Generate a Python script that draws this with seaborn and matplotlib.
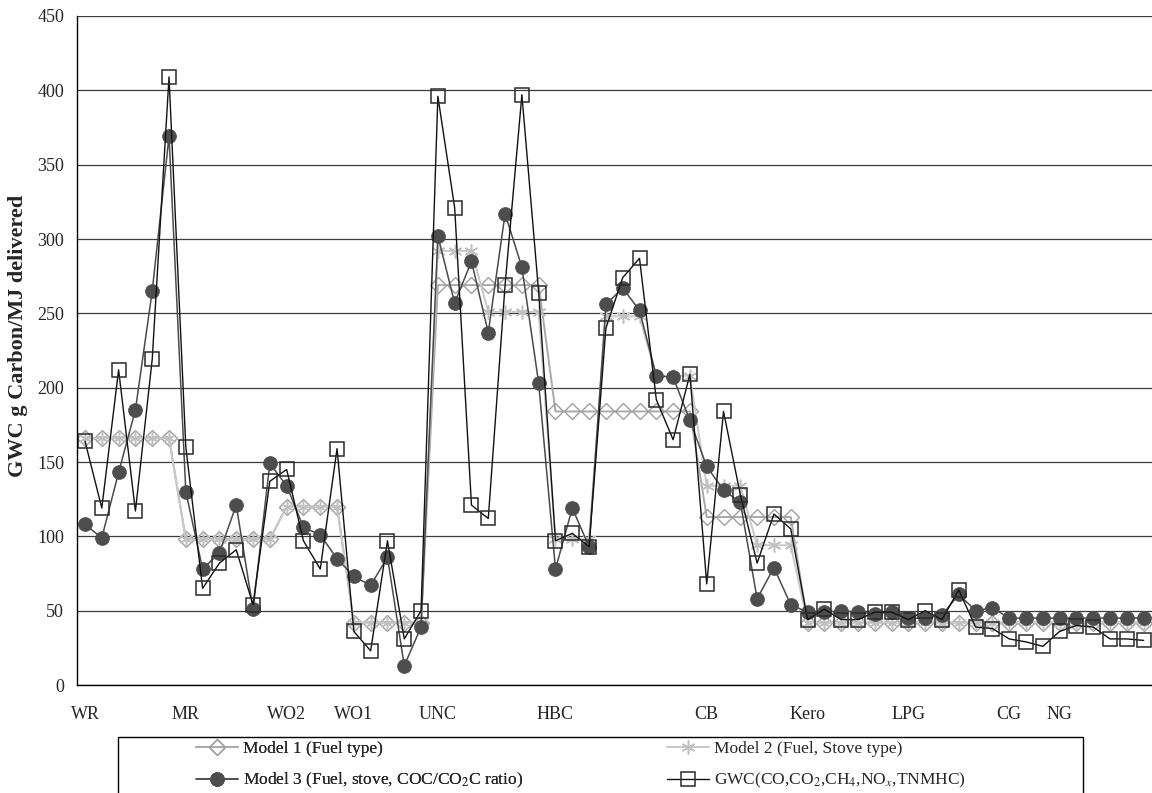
import numpy as np
import pandas as pd
import matplotlib
matplotlib.use("Agg")
import matplotlib.pyplot as plt
import seaborn as sns
from matplotlib.patches import Rectangle

# ---------------- data ----------------
group_labels = ["WR", "MR", "WO2", "WO1", "UNC", "HBC", "CB", "Kero", "LPG", "CG", "NG"]
group_label_pos = [0, 6, 12, 16, 21, 28, 37, 43, 49, 55, 58]

model1 = [166, 166, 166, 166, 166, 166,
          98, 98, 98, 98, 98, 98,
          120, 120, 120, 120,
          42, 42, 42, 42, 42,
          269, 269, 269, 269, 269, 269, 269,
          184, 184, 184, 184, 184, 184, 184, 184, 184,
          113, 113, 113, 113, 113, 113,
          42, 42, 42, 42, 42, 42,
          42, 42, 42, 42, 42, 42,
          42, 42, 42,
          42, 42, 42, 42, 42, 42]

model2 = [166, 166, 166, 166, 166, 166,
          98, 98, 98, 98, 98, 98,
          120, 120, 120, 120,
          42, 42, 42, 42, 42,
          292, 292, 292, 251, 251, 251, 251,
          98, 98, 98, 248, 248, 248, 208, 208, 208,
          134, 134, 134, 94, 94, 94,
          42, 42, 42, 42, 42, 42,
          42, 42, 42, 42, 42, 42,
          42, 42, 42,
          42, 42, 42, 42, 42, 42]

model3 = [108, 99, 143, 185, 265, 369,
          130, 78, 89, 121, 51, 149,
          134, 106, 101, 85,
          73, 67, 86, 13, 39,
          302, 257, 285, 237, 317, 281, 203,
          78, 119, 93, 256, 267, 252, 208, 207, 178,
          147, 131, 123, 58, 79, 54,
          49, 49, 50, 49, 48, 49,
          45, 45, 47, 61, 50, 52,
          45, 45, 45,
          45, 45, 45, 45, 45, 45]

gwc = [164, 119, 212, 117, 219, 409,
       160, 65, 82, 91, 54, 137,
       145, 97, 78, 159,
       36, 23, 97, 31, 50,
       396, 321, 121, 112, 269, 397, 264,
       97, 102, 93, 240, 274, 287, 192, 165, 209,
       68, 184, 128, 82, 115, 105,
       44, 51, 44, 44, 49, 49,
       44, 50, 44, 64, 39, 38,
       31, 29, 26,
       36, 40, 39, 31, 31, 30]

labels = ["Model 1 (Fuel type)",
          "Model 2 (Fuel, Stove type)",
          "Model 3 (Fuel, stove, COC/CO$_2$C ratio)",
          "GWC(CO,CO$_2$,CH$_4$,NO$_x$,TNMHC)"]

# ---------------- style ----------------
sns.set_style("white")
plt.rcParams['font.family'] = ['Liberation Serif', 'DejaVu Serif']
plt.rcParams['mathtext.fontset'] = 'stix'

W, H = 1152, 793
fig = plt.figure(figsize=(W / 100, H / 100), dpi=100)
ax_left, ax_right, ax_top, ax_bottom = 76.6, 1152, 16, 685
ax = fig.add_axes([ax_left / W, 1 - ax_bottom / H, (ax_right - ax_left) / W, (ax_bottom - ax_top) / H])

idx = np.arange(len(model1))
df = pd.DataFrame({"idx": idx, "m1": model1, "m2": model2, "m3": model3, "gwc": gwc})

sns.lineplot(data=df, x="idx", y="m1", ax=ax, color="#a9a9a9", linewidth=1.4,
             marker="D", markersize=8, markerfacecolor="none",
             markeredgecolor="#a0a0a0", markeredgewidth=1.0, label=labels[0])
sns.lineplot(data=df, x="idx", y="m2", ax=ax, color="#c8c8c8", linewidth=1.4,
             marker=(6, 2, 0), markersize=10, markerfacecolor="none",
             markeredgecolor="#c0c0c0", markeredgewidth=1.1, label=labels[1])
sns.lineplot(data=df, x="idx", y="m3", ax=ax, color="#4a4a4a", linewidth=1.1,
             marker="o", markersize=10, markerfacecolor="#4d4d4d",
             markeredgecolor="#4d4d4d", markeredgewidth=0.5, label=labels[2])
sns.lineplot(data=df, x="idx", y="gwc", ax=ax, color="#111111", linewidth=1.0,
             marker="s", markersize=9.5, markerfacecolor="none",
             markeredgecolor="#2a2a2a", markeredgewidth=1.1, label=labels[3])

# axes
ax.set_ylim(0, 450)
ax.set_xlim(-0.5, (ax_right - 85) / 16.93)
ax.set_yticks(np.arange(0, 451, 50))
ax.yaxis.grid(True, color="#3c3c3c", linewidth=0.9)
ax.xaxis.grid(False)
ax.set_axisbelow(True)
for s in ["top", "right"]:
    ax.spines[s].set_visible(False)
for s in ["left", "bottom"]:
    ax.spines[s].set_color("black")
    ax.spines[s].set_linewidth(1.0)

ax.set_xticks(np.arange(-0.5, len(model1) + 0.5, 1))
ax.set_xticklabels([])
ax.set_xticks(group_label_pos, minor=True)
ax.set_xticklabels(group_labels, minor=True)
ax.tick_params(axis="x", which="major", length=5, width=1, direction="out", color="black")
ax.tick_params(axis="x", which="minor", length=0, pad=15, labelsize=13)
ax.tick_params(axis="y", which="major", length=5, width=1, direction="out", labelsize=13, pad=4, color="black")
ax.set_xlabel("")
ax.set_ylabel("")

fig.text(18 / W, 1 - 336 / H, "GWC g Carbon/MJ delivered", rotation=90,
         fontweight="bold", fontsize=16, ha="center", va="center")

# legend
ax.get_legend().remove()
h, l = ax.get_legend_handles_labels()
leg_kw = dict(fontsize=12.5, handlelength=2.4, handletextpad=0.3, labelspacing=0.8,
              frameon=False, borderpad=0, borderaxespad=0, loc="upper left", numpoints=1)
leg1 = fig.legend([h[0], h[2]], [l[0], l[2]], bbox_to_anchor=(196 / W, 1 - 741 / H), **leg_kw)
fig.add_artist(leg1)
leg2 = fig.legend([h[1], h[3]], [l[1], l[3]], bbox_to_anchor=(667 / W, 1 - 741 / H), **leg_kw)

fig.add_artist(Rectangle((118 / W, -0.05), (1083 - 118) / W, 0.05 + (1 - 737 / H),
                         transform=fig.transFigure, fill=False, edgecolor="black", linewidth=1.0))

fig.savefig("out.png", dpi=100)
